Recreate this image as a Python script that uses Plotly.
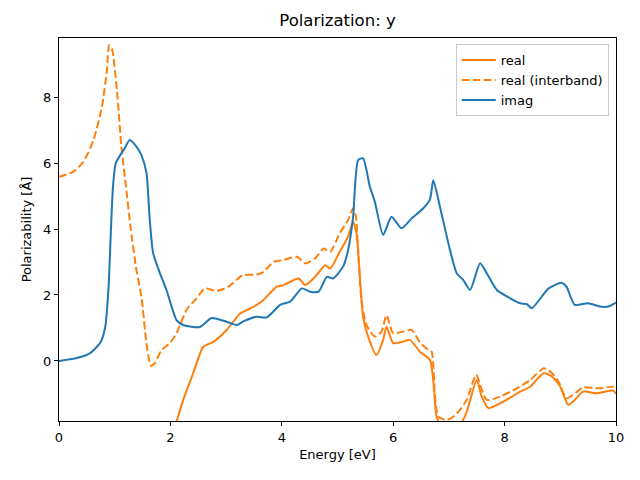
import plotly.graph_objects as go

# imag
x_imag = [0.0, 0.3, 0.56, 0.74, 0.83, 0.89, 0.93, 0.97, 1.02, 1.1, 1.18, 1.27, 1.39, 1.48, 1.57, 1.63, 1.69, 1.81, 1.93, 2.11, 2.23, 2.53, 2.74, 3.01, 3.19, 3.31, 3.55, 3.73, 3.97, 4.15, 4.36, 4.51, 4.66, 4.81, 4.92, 5.1, 5.19, 5.28, 5.37, 5.46, 5.58, 5.67, 5.82, 5.97, 6.15, 6.33, 6.54, 6.66, 6.72, 6.84, 7.02, 7.14, 7.26, 7.38, 7.56, 7.68, 7.86, 8.1, 8.28, 8.4, 8.49, 8.79, 9.02, 9.11, 9.26, 9.5, 9.71, 9.86, 10.0]
y_imag = [0.0, 0.08, 0.24, 0.55, 1.03, 2.24, 3.88, 5.3, 6.0, 6.24, 6.45, 6.7, 6.5, 6.24, 5.7, 4.27, 3.27, 2.67, 2.15, 1.24, 1.09, 1.03, 1.3, 1.19, 1.09, 1.2, 1.34, 1.32, 1.7, 1.8, 2.2, 2.1, 2.1, 2.55, 2.5, 2.86, 3.36, 4.37, 6.09, 6.14, 5.29, 4.83, 3.82, 4.37, 4.02, 4.32, 4.63, 4.9, 5.48, 4.67, 3.36, 2.66, 2.45, 2.15, 2.96, 2.66, 2.15, 1.9, 1.75, 1.72, 1.6, 2.2, 2.37, 2.25, 1.7, 1.75, 1.65, 1.65, 1.77]

# real (interband)
x_inter = [0.0, 0.26, 0.44, 0.62, 0.77, 0.86, 0.9, 0.95, 1.04, 1.12, 1.21, 1.28, 1.39, 1.48, 1.57, 1.65, 1.72, 1.84, 1.99, 2.11, 2.29, 2.47, 2.62, 2.83, 3.04, 3.25, 3.31, 3.55, 3.67, 3.85, 4.03, 4.27, 4.42, 4.6, 4.75, 4.87, 5.04, 5.19, 5.28, 5.33, 5.37, 5.43, 5.52, 5.67, 5.79, 5.88, 6.0, 6.18, 6.33, 6.48, 6.63, 6.69, 6.75, 6.81, 6.96, 7.08, 7.2, 7.32, 7.49, 7.59, 7.68, 7.92, 8.22, 8.46, 8.7, 8.85, 8.97, 9.11, 9.23, 9.41, 9.71, 9.95, 10.0]
y_inter = [5.58, 5.74, 6.04, 6.7, 7.7, 8.8, 9.57, 9.47, 8.2, 6.5, 5.18, 4.1, 2.76, 1.95, 0.54, -0.15, -0.07, 0.33, 0.54, 0.84, 1.55, 1.9, 2.2, 2.12, 2.25, 2.55, 2.6, 2.62, 2.7, 3.0, 3.06, 3.16, 2.96, 3.11, 3.41, 3.31, 3.87, 4.27, 4.63, 4.37, 3.36, 1.85, 1.09, 0.74, 0.89, 1.39, 0.84, 0.89, 0.94, 0.56, 0.33, 0.28, -1.08, -1.69, -1.79, -1.69, -1.48, -1.18, -0.42, -0.88, -1.18, -1.08, -0.83, -0.58, -0.22, -0.37, -0.63, -1.13, -1.03, -0.8, -0.83, -0.78, -0.85]

# real
x_real = [1.95, 2.11, 2.23, 2.41, 2.59, 2.77, 3.01, 3.25, 3.31, 3.55, 3.67, 3.91, 4.03, 4.3, 4.42, 4.6, 4.78, 4.87, 5.04, 5.19, 5.28, 5.34, 5.41, 5.46, 5.55, 5.7, 5.82, 5.88, 6.0, 6.18, 6.3, 6.48, 6.66, 6.72, 6.78, 6.9, 7.05, 7.2, 7.32, 7.5, 7.59, 7.71, 7.98, 8.28, 8.46, 8.7, 8.85, 9.0, 9.14, 9.23, 9.41, 9.65, 9.95, 10.0]
y_real = [-2.6, -1.84, -1.18, -0.37, 0.43, 0.58, 0.94, 1.44, 1.49, 1.7, 1.85, 2.25, 2.3, 2.5, 2.3, 2.55, 2.9, 2.8, 3.31, 3.77, 4.22, 3.87, 2.35, 1.34, 0.74, 0.18, 0.64, 1.04, 0.54, 0.59, 0.64, 0.28, 0.03, -0.6, -1.69, -2.1, -2.1, -1.95, -1.54, -0.58, -1.08, -1.43, -1.23, -0.93, -0.78, -0.37, -0.47, -0.78, -1.33, -1.23, -0.93, -0.98, -0.9, -1.0]

orange = "#ff7f0e"
blue = "#1f77b4"

fig = go.Figure()
fig.add_trace(go.Scatter(x=x_real, y=y_real, mode="lines", name="real",
                         line=dict(color=orange, width=2, shape="spline", smoothing=0.6)))
fig.add_trace(go.Scatter(x=x_inter, y=y_inter, mode="lines", name="real (interband)",
                         line=dict(color=orange, width=2, dash="7.7px,3.3px", shape="spline", smoothing=0.6)))
fig.add_trace(go.Scatter(x=x_imag, y=y_imag, mode="lines", name="imag",
                         line=dict(color=blue, width=2, shape="spline", smoothing=0.6)))

axis_common = dict(showgrid=False, zeroline=False, showline=True, linecolor="black", linewidth=1,
                   mirror=True, ticks="outside", ticklen=4, tickcolor="black",
                   tickfont=dict(size=13, color="black"))

# page body has an 8px margin, so the figure is sized/offset to compensate
fig.update_layout(
    width=632, height=472,
    margin=dict(l=51, r=24, t=30, b=59, autoexpand=False),
    paper_bgcolor="white", plot_bgcolor="white",
    font=dict(family="DejaVu Sans", size=13, color="black"),
    title=dict(text="Polarization: y", xref="paper", x=0.5, xanchor="center",
               yref="container", y=1 - 12 / 472, yanchor="middle",
               font=dict(size=16.5, color="black")),
    showlegend=True,
    legend=dict(x=0.987, y=0.984, xanchor="right", yanchor="top",
                bordercolor="#cccccc", borderwidth=1, bgcolor="rgba(255,255,255,0.8)",
                font=dict(size=13), tracegroupgap=0, itemwidth=34),
)
fig.update_xaxes(range=[0, 10], tickvals=[0, 2, 4, 6, 8, 10],
                 title=dict(text="Energy [eV]", font=dict(size=13), standoff=6), **axis_common)
fig.update_yaxes(range=[-1.82, 9.79], tickvals=[0, 2, 4, 6, 8],
                 title=dict(text="Polarizability [Å]", font=dict(size=13), standoff=8), **axis_common)

fig.write_html("out.html")
